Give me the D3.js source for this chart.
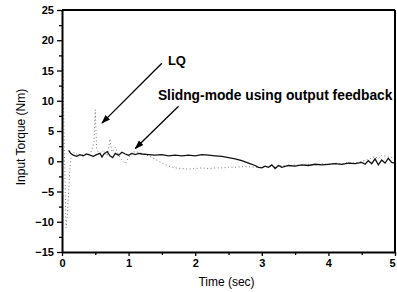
<!DOCTYPE html>
<html>
<head>
<meta charset="utf-8">
<script src="https://cdn.jsdelivr.net/npm/d3@7"></script>
<style>
  body { margin: 0; background: #fff; }
  svg { display: block; }
  .tick text { font-family: "Liberation Sans", Arial, sans-serif; font-weight: bold; font-size: 11px; }
</style>
</head>
<body>
<div class="chart"></div>
<script>
// sliding-mode using output feedback (solid)
const timeSliding = [0.10,0.13,0.17,0.22,0.27,0.32,0.37,0.42,0.47,0.52,0.57,0.60,0.63,0.68,0.72,0.76,0.80,0.85,0.90,0.95,
  1.00,1.05,1.10,1.15,1.20,1.30,1.40,1.50,1.60,1.70,1.80,1.90,2.00,2.10,2.20,2.30,2.40,2.50,2.60,2.70,2.80,2.90,2.95,
  3.00,3.05,3.10,3.15,3.20,3.25,3.30,3.40,3.50,3.60,3.70,3.80,3.90,4.00,4.10,4.20,4.30,4.40,4.50,4.55,4.60,4.65,4.70,
  4.75,4.80,4.85,4.90,4.95,5.00];
const torqueSliding = [1.8,1.3,1.0,0.8,1.1,0.9,1.2,1.0,0.8,1.1,1.3,0.7,1.2,1.6,0.9,0.6,1.3,1.0,1.5,1.2,
  1.0,1.3,1.1,1.3,1.2,1.1,1.0,1.1,0.9,1.0,0.9,1.0,0.9,1.1,1.0,0.9,0.8,0.6,0.4,0.1,-0.3,-0.7,-1.0,
  -1.1,-0.8,-1.0,-0.6,-1.2,-0.7,-1.0,-0.7,-0.8,-0.6,-0.7,-0.5,-0.6,-0.5,-0.4,-0.5,-0.3,-0.4,-0.2,-0.5,0.1,-0.4,0.4,
  -0.6,0.2,-0.3,0.5,-0.2,-0.3];

// LQ (dotted)
const timeLQ = [0.00,0.03,0.06,0.08,0.10,0.12,0.14,0.18,0.22,0.28,0.33,0.38,0.43,0.48,0.50,0.52,0.56,0.62,0.68,0.72,0.75,
  0.80,0.85,0.90,0.95,1.00,1.05,1.10,1.20,1.30,1.40,1.50,1.60,1.70,1.80,1.90,2.00,2.10,2.20,2.30,2.40,2.50,2.60,2.70,
  2.80,2.90,3.00,3.10,3.20,3.30,3.40,3.50,3.60,3.70,3.80,3.90,4.00,4.10,4.20,4.30,4.40,4.50,4.60,4.70,4.75,4.80,4.90,5.00];
const torqueLQ = [25,5,-11,-9,-5,-1,1.0,1.5,1.2,0.9,1.3,1.0,1.4,3.0,8.5,2.0,1.2,1.8,0.8,3.7,1.5,
  2.3,1.0,0.2,-0.4,0.6,1.4,1.6,1.3,0.9,0.3,-0.3,-0.8,-1.1,-1.2,-1.3,-1.2,-1.1,-1.2,-1.1,-1.1,-1.0,-1.0,-0.9,
  -0.9,-1.0,-1.0,-0.8,-0.9,-0.7,-0.8,-0.6,-0.7,-0.5,-0.6,-0.4,-0.5,-0.3,-0.4,-0.2,-0.3,0.0,0.3,0.8,0.4,1.0,0.7,0.6];

const xTicks = [0, 1, 2, 3, 4, 5];
const yTicks = [-15, -10, -5, 0, 5, 10, 15, 20, 25];

const svg_width = 397;
const svg_height = 292;
const margin = {top: 10, right: 2, bottom: 40, left: 62};
const chart_width = svg_width - margin.left - margin.right;
const chart_height = svg_height - margin.top - margin.bottom;

const svg = d3.select(".chart").append("svg")
  .attr("width", svg_width).attr("height", svg_height);

const g = svg.append("g")
  .attr("transform", `translate(${margin.left},${margin.top})`);

const xScale = d3.scaleLinear([0, 5], [0, chart_width]);
const yScale = d3.scaleLinear([-15, 25], [chart_height, 0]);

g.append("clipPath").attr("id", "clip")
  .append("rect").attr("width", chart_width).attr("height", chart_height);

const line = d3.line().x(d => xScale(d[0])).y(d => yScale(d[1]));

g.append("path")
  .datum(d3.zip(timeLQ, torqueLQ))
  .attr("clip-path", "url(#clip)")
  .attr("d", line)
  .attr("fill", "none")
  .attr("stroke", "#777")
  .attr("stroke-width", 1)
  .attr("stroke-dasharray", "1,2.5");

g.append("path")
  .datum(d3.zip(timeSliding, torqueSliding))
  .attr("clip-path", "url(#clip)")
  .attr("d", line)
  .attr("fill", "none")
  .attr("stroke", "#111")
  .attr("stroke-width", 1.3);

// minor ticks
const xMinor = d3.axisBottom(xScale).tickValues(d3.range(0.5, 5, 1)).tickSize(3).tickFormat("");
g.append("g").attr("transform", `translate(0,${chart_height})`).call(xMinor).select(".domain").remove();
const yMinor = d3.axisLeft(yScale).tickValues(d3.range(-12.5, 25, 5)).tickSize(3).tickFormat("");
g.append("g").call(yMinor).select(".domain").remove();

const xAxis = d3.axisBottom(xScale).tickValues(xTicks).tickFormat(d3.format("d"))
  .tickSizeInner(4).tickSizeOuter(0).tickPadding(3);
const xAxisDraw = g.append("g").attr("transform", `translate(0,${chart_height})`).call(xAxis);
// keep the last label inside the page
xAxisDraw.selectAll(".tick text").filter(d => d === 5).attr("dx", "-3");
const yAxis = d3.axisLeft(yScale).tickValues(yTicks).tickFormat(d3.format("d"))
  .tickSizeInner(5).tickSizeOuter(0).tickPadding(3);
const yAxisDraw = g.append("g").call(yAxis);
g.selectAll(".domain").attr("stroke-width", 2);
g.selectAll(".tick line").attr("stroke-width", 1.3);

// frame top and right
g.append("line").attr("x1", 0).attr("x2", chart_width).attr("y1", 0).attr("y2", 0)
  .attr("stroke", "#000").attr("stroke-width", 2);
g.append("line").attr("x1", chart_width).attr("x2", chart_width).attr("y1", 0).attr("y2", chart_height)
  .attr("stroke", "#000").attr("stroke-width", 2);

// annotations
svg.append("defs").append("marker")
  .attr("id", "arrow").attr("viewBox", "0 0 10 10")
  .attr("refX", 9).attr("refY", 5)
  .attr("markerWidth", 7).attr("markerHeight", 7)
  .attr("orient", "auto")
  .append("path").attr("d", "M0,1.5 L10,5 L0,8.5 z").attr("fill", "#000");

const arrows = [[1.50, 16.2, 0.60, 6.3], [1.75, 9.1, 1.10, 2.1]];
g.selectAll(".arrow").data(arrows).enter().append("line")
  .attr("class", "arrow")
  .attr("x1", d => xScale(d[0])).attr("y1", d => yScale(d[1]))
  .attr("x2", d => xScale(d[2])).attr("y2", d => yScale(d[3]))
  .attr("stroke", "#000").attr("stroke-width", 1.3)
  .attr("marker-end", "url(#arrow)");

g.append("text")
  .attr("x", xScale(1.59)).attr("y", yScale(15.9))
  .style("font-family", "Liberation Sans, Arial, sans-serif")
  .style("font-weight", "bold").style("font-size", "13px")
  .text("LQ");

g.append("text")
  .attr("x", xScale(1.44)).attr("y", yScale(10.1))
  .style("font-family", "Liberation Sans, Arial, sans-serif")
  .style("font-weight", "bold").style("font-size", "13.8px")
  .text("Slidng-mode using output feedback");

// axis labels
svg.append("text")
  .attr("x", margin.left + xScale(2.5) - 2).attr("y", 286)
  .style("text-anchor", "middle")
  .style("font-family", "Liberation Sans, Arial, sans-serif").style("font-size", "12px")
  .text("Time (sec)");

svg.append("text")
  .attr("transform", "rotate(-90)")
  .attr("x", -137).attr("y", 25)
  .style("text-anchor", "middle")
  .style("font-family", "Liberation Sans, Arial, sans-serif").style("font-size", "12px")
  .text("Input Torque (Nm)");
</script>
</body>
</html>
